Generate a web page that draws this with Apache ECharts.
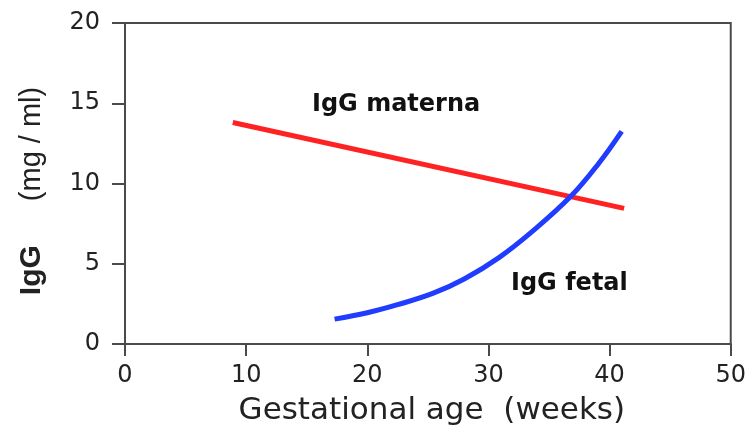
<!DOCTYPE html>
<html>
<head>
<meta charset="utf-8">
<script src="https://cdn.jsdelivr.net/npm/echarts@6/dist/echarts.min.js"></script>
<style>
html,body{margin:0;padding:0;background:#fff;}
#chart{width:749px;height:438px;}
</style>
</head>
<body>
<div id="chart"></div>
<script>
// Gestational age (weeks) vs IgG (mg/ml)
const xTicks = [0, 10, 20, 30, 40, 50];
const yTicks = [0, 5, 10, 15, 20];
const maternaWeeks = [8.9, 41.2];
const maternaIgG = [13.8, 8.45];
const fetalWeeks = [17.3, 20, 22.5, 25.4, 28, 30.9, 33.6, 36.8, 39.1, 41.0];
const fetalIgG = [1.55, 1.95, 2.45, 3.15, 4.05, 5.4, 7.0, 9.2, 11.25, 13.25];
const seriesNames = ['IgG materna', 'IgG fetal'];

const pair = (xs, ys) => xs.map((x, i) => [x, ys[i]]);
const axisCol = '#4a4a4a';
const textCol = '#222';

const chart = echarts.init(document.getElementById('chart'));
chart.setOption({
  animation: false,
  backgroundColor: '#fff',
  grid: {
    left: 125, right: 16, top: 23, bottom: 94,
    show: true, borderColor: axisCol, borderWidth: 2
  },
  xAxis: {
    type: 'value',
    min: xTicks[0], max: xTicks[xTicks.length - 1], interval: 10,
    name: 'Gestational age  (weeks)',
    nameLocation: 'middle',
    nameGap: 51,
    nameTextStyle: { fontFamily: 'DejaVu Sans', fontSize: 31, color: textCol, padding: [0, 0, 0, 8] },
    axisLine: { lineStyle: { color: axisCol, width: 2 } },
    axisTick: { length: 12, lineStyle: { color: axisCol, width: 2 } },
    axisLabel: { margin: 20, fontFamily: 'DejaVu Sans', fontSize: 24, color: textCol },
    splitLine: { show: false }
  },
  yAxis: {
    type: 'value',
    min: yTicks[0], max: yTicks[yTicks.length - 1], interval: 5,
    name: '{b|IgG}{n|(mg / ml)}',
    nameLocation: 'middle',
    nameRotate: 90,
    nameGap: 78,
    nameTextStyle: {
      color: textCol,
      rich: {
        b: { fontFamily: 'Liberation Sans', fontWeight: 'bold', fontSize: 30, color: textCol, padding: [0, 44, 0, 0] },
        n: { fontFamily: 'Liberation Sans', fontSize: 29, color: textCol, padding: [0, 15, 0, 0] }
      }
    },
    axisLine: { show: true, lineStyle: { color: axisCol, width: 2 } },
    axisTick: { show: true, length: 13, lineStyle: { color: axisCol, width: 2 } },
    axisLabel: { margin: 25, fontFamily: 'DejaVu Sans', fontSize: 24, color: textCol },
    splitLine: { show: false }
  },
  series: [
    {
      name: seriesNames[0], type: 'line',
      data: pair(maternaWeeks, maternaIgG),
      showSymbol: false, symbol: 'none',
      lineStyle: { color: '#ff2222', width: 5 },
      itemStyle: { color: '#ff2222' }
    },
    {
      name: seriesNames[1], type: 'line',
      data: pair(fetalWeeks, fetalIgG),
      smooth: 0.4,
      showSymbol: false, symbol: 'none',
      lineStyle: { color: '#1f3cff', width: 5 },
      itemStyle: { color: '#1f3cff' }
    }
  ],
  graphic: [
    { type: 'text', left: 312, top: 93,
      style: { text: seriesNames[0], font: 'bold 24px "DejaVu Sans"', fill: '#111' } },
    { type: 'text', left: 511, top: 272,
      style: { text: seriesNames[1], font: 'bold 24px "DejaVu Sans"', fill: '#111' } }
  ]
});
</script>
</body>
</html>
